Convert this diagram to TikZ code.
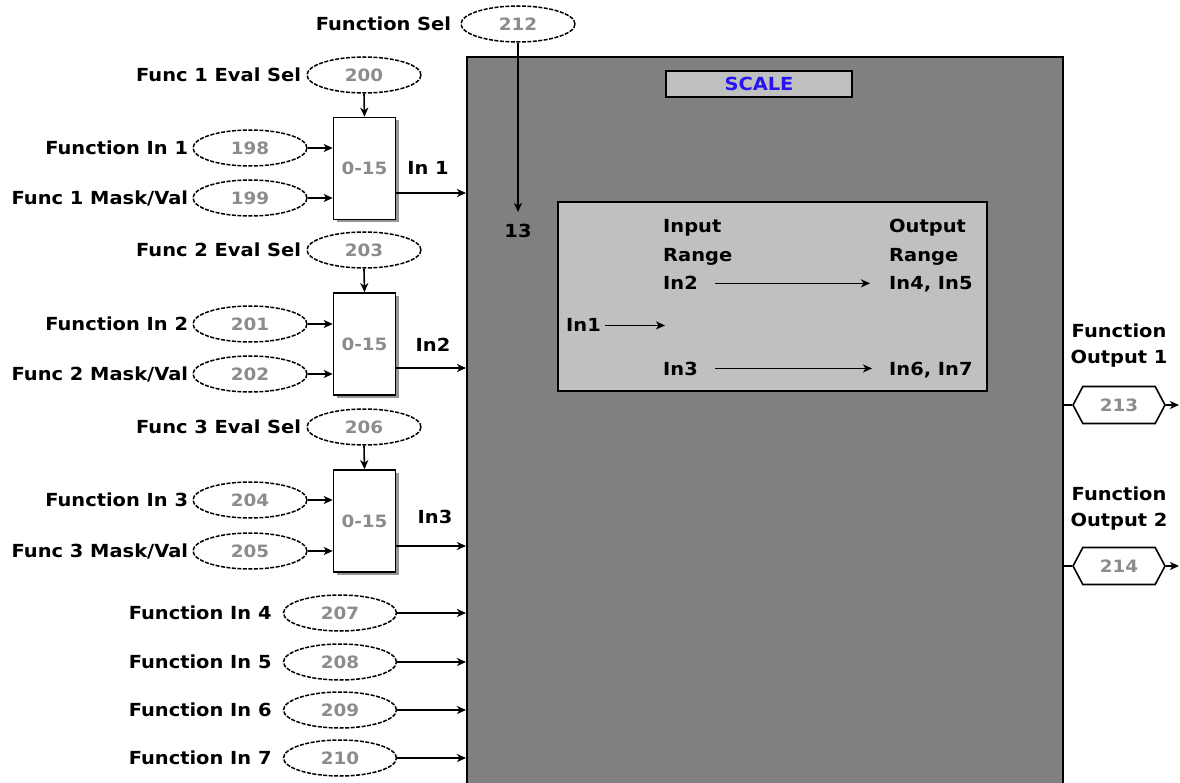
\documentclass[tikz,border=0pt]{standalone}
\usepackage{fontspec}
\setmainfont{DejaVu Sans}[FakeStretch=1.08]
\usetikzlibrary{shapes.geometric,shapes.symbols,arrows.meta,shadows}
\definecolor{boxgray}{RGB}{128,128,128}
\definecolor{panelgray}{RGB}{192,192,192}
\definecolor{numgray}{RGB}{140,140,140}
\definecolor{shadegray}{RGB}{150,150,150}
\definecolor{titleblue}{RGB}{40,20,240}
\begin{document}
\begin{tikzpicture}[x=1pt,y=-1pt,
  lbl/.style={font=\fontsize{18}{20}\selectfont\bfseries, inner sep=0pt},
  numell/.style={ellipse, draw, dash pattern=on 4pt off 1.5pt, line width=1.5pt,
    minimum width=114pt, minimum height=36pt, inner sep=0pt,
    font=\fontsize{17}{19}\selectfont\bfseries, text=numgray},
  muxbox/.style={draw, fill=white, line width=1.6pt, minimum width=62pt,
    minimum height=102pt, inner sep=0pt,
    font=\fontsize{17}{19}\selectfont\bfseries, text=numgray,
    drop shadow={shadow xshift=3pt, shadow yshift=-3pt, fill=shadegray, opacity=1}},
  outhex/.style={signal, signal to=east and west, signal pointer angle=124,
    draw, line width=1.6pt, minimum width=92pt, minimum height=37pt, inner sep=0pt,
    font=\fontsize{17}{19}\selectfont\bfseries, text=numgray},
  wire/.style={line width=1.6pt, -{Stealth[length=9pt,width=8pt,inset=2.5pt]}},
  plain/.style={line width=1.6pt}
]
\useasboundingbox (0,0) rectangle (1180,783);
\clip (0,0) rectangle (1180,783);

% main SCALE block
\node[draw, fill=boxgray, line width=2pt, minimum width=596pt, minimum height=740pt,
  inner sep=0pt] (scale) at (765,427) {};
\node[draw, fill=panelgray, line width=2pt, minimum width=186pt, minimum height=26pt,
  inner sep=0pt, font=\fontsize{18}{20}\selectfont\bfseries, text=titleblue]
  (title) at (759,84) {SCALE};

% inner range panel
\node[draw, fill=panelgray, line width=2pt, minimum width=429pt, minimum height=189pt,
  inner sep=0pt] (panel) at (772.5,296.5) {};
\node[lbl, anchor=base west] (tin) at (663,233) {Input};
\node[lbl, anchor=base west] (trg) at (663,262) {Range};
\node[lbl, anchor=base west] (tin2) at (663,290) {In2};
\node[lbl, anchor=base west] (tout) at (889,233) {Output};
\node[lbl, anchor=base west] (trg2) at (889,262) {Range};
\node[lbl, anchor=base west] (tin45) at (889,290) {In4, In5};
\node[lbl, anchor=base west] (tin1) at (566,332) {In1};
\node[lbl, anchor=base west] (tin3) at (663,375) {In3};
\node[lbl, anchor=base west] (tin67) at (889,375) {In6, In7};
\coordinate (in1tip) at (665,324);
\draw[wire, shorten <=4pt] (tin1.east) -- (tin1.east -| in1tip);
\draw[wire, shorten <=17pt, shorten >=19pt] (tin2.east) -- (tin2.east -| tin45.west);
\draw[wire, shorten <=17pt, shorten >=17pt] (tin3.east) -- (tin3.east -| tin67.west);

% function select
\node[numell] (e212) at (518,24) {212};
\node[lbl, anchor=east] (lsel) at ([xshift=-9pt]e212.west) {Function Sel};
\node[lbl] (n13) at (518,231) {13};
\draw[wire, shorten >=12pt] (e212.south) -- (n13.north);

% multiplexers
\node[muxbox] (mux1) at (364.5,168.5) {0-15};
\node[muxbox] (mux2) at (364.5,344) {0-15};
\node[muxbox] (mux3) at (364.5,521) {0-15};

\node[numell] (e200) at (364,75) {200};
\node[numell] (e198) at (250,148) {198};
\node[numell] (e199) at (250,198) {199};
\node[numell] (e203) at (364,250) {203};
\node[numell] (e201) at (250,324) {201};
\node[numell] (e202) at (250,374) {202};
\node[numell] (e206) at (364,427) {206};
\node[numell] (e204) at (250,500) {204};
\node[numell] (e205) at (250,551) {205};

\node[lbl, anchor=east] at ([xshift=-5pt]e200.west) {Func 1 Eval Sel};
\node[lbl, anchor=east] at ([xshift=-4pt]e198.west) {Function In 1};
\node[lbl, anchor=east] at ([xshift=-4pt]e199.west) {Func 1 Mask/Val};
\node[lbl, anchor=east] at ([xshift=-5pt]e203.west) {Func 2 Eval Sel};
\node[lbl, anchor=east] at ([xshift=-4pt]e201.west) {Function In 2};
\node[lbl, anchor=east] at ([xshift=-4pt]e202.west) {Func 2 Mask/Val};
\node[lbl, anchor=east] at ([xshift=-5pt]e206.west) {Func 3 Eval Sel};
\node[lbl, anchor=east] at ([xshift=-4pt]e204.west) {Function In 3};
\node[lbl, anchor=east] at ([xshift=-4pt]e205.west) {Func 3 Mask/Val};

\draw[wire] (e200.south) -- (mux1.north);
\draw[wire] (e203.south) -- (mux2.north);
\draw[wire] (e206.south) -- (mux3.north);
\draw[wire] (e198.east) -- (mux1.west |- e198.east);
\draw[wire] (e199.east) -- (mux1.west |- e199.east);
\draw[wire] (e201.east) -- (mux2.west |- e201.east);
\draw[wire] (e202.east) -- (mux2.west |- e202.east);
\draw[wire] (e204.east) -- (mux3.west |- e204.east);
\draw[wire] (e205.east) -- (mux3.west |- e205.east);

\draw[wire] (mux1.east |- 0,193) -- (scale.west |- 0,193);
\draw[wire] (mux2.east |- 0,368) -- (scale.west |- 0,368);
\draw[wire] (mux3.east |- 0,546) -- (scale.west |- 0,546);
\node[lbl] (lin1) at (428,168) {In 1};
\node[lbl] (lin2) at (433,345) {In2};
\node[lbl] (lin3) at (435,517) {In3};

% direct function inputs
\node[numell, minimum width=113pt] (e207) at (340,613) {207};
\node[numell, minimum width=113pt] (e208) at (340,662) {208};
\node[numell, minimum width=113pt] (e209) at (340,710) {209};
\node[numell, minimum width=113pt] (e210) at (340,758) {210};
\node[lbl, anchor=east] at ([xshift=-11pt]e207.west) {Function In 4};
\node[lbl, anchor=east] at ([xshift=-11pt]e208.west) {Function In 5};
\node[lbl, anchor=east] at ([xshift=-11pt]e209.west) {Function In 6};
\node[lbl, anchor=east] at ([xshift=-11pt]e210.west) {Function In 7};
\draw[wire] (e207.east) -- (scale.west |- e207.east);
\draw[wire] (e208.east) -- (scale.west |- e208.east);
\draw[wire] (e209.east) -- (scale.west |- e209.east);
\draw[wire] (e210.east) -- (scale.west |- e210.east);

% function outputs
\node[outhex] (h213) at (1119,405) {213};
\node[outhex] (h214) at (1119,566) {214};
\node[lbl, anchor=base] at (1119,337.5) {Function};
\node[lbl, anchor=base] at (1119,363.5) {Output 1};
\node[lbl, anchor=base] at (1119,500.5) {Function};
\node[lbl, anchor=base] at (1119,526.5) {Output 2};
\coordinate (o213) at (1179,405);
\coordinate (o214) at (1179,566);
\draw[plain] (scale.east |- h213.west) -- (h213.west);
\draw[plain] (scale.east |- h214.west) -- (h214.west);
\draw[wire] (h213.east) -- (o213);
\draw[wire] (h214.east) -- (o214);
\end{tikzpicture}
\end{document}
